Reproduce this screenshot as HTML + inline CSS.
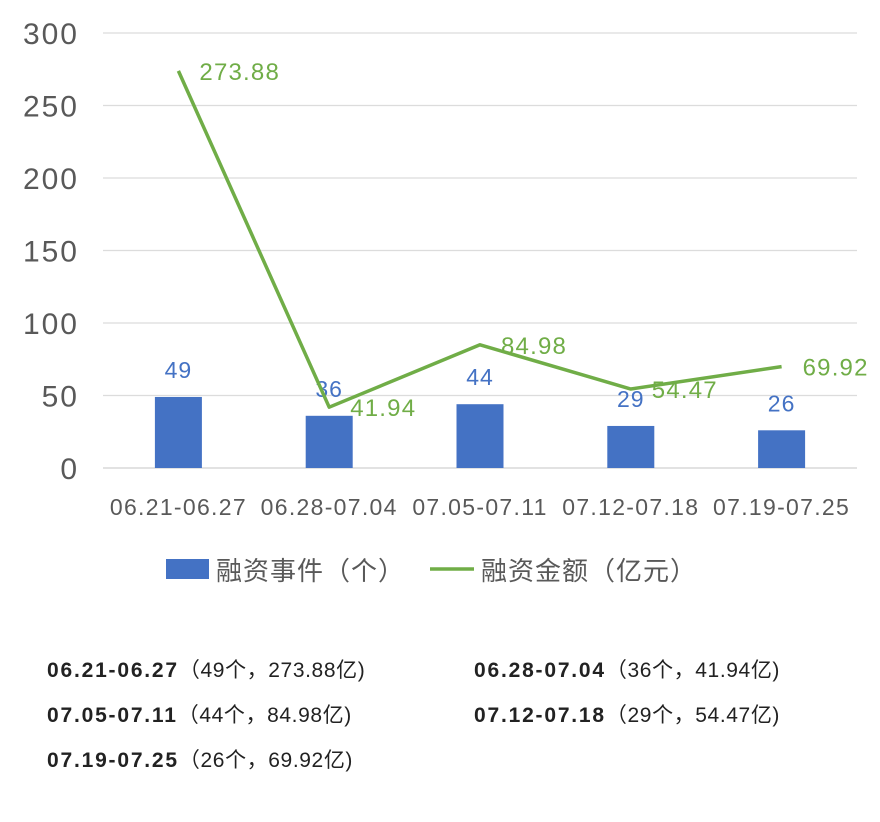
<!DOCTYPE html>
<html><head><meta charset="utf-8">
<style>
body{margin:0;background:#fff;width:880px;height:822px;overflow:hidden;font-family:"Liberation Sans","Noto Sans CJK SC",sans-serif;}
.note{position:absolute;font-size:21px;color:#222;letter-spacing:0.6px;}
.note b{font-weight:bold;letter-spacing:1.8px;}
</style></head><body>
<svg id="chart" width="880" height="610" style="position:absolute;left:0;top:0" font-family="Liberation Sans, Noto Sans CJK SC, sans-serif"></svg>
<div class="note" style="left:47px;top:654px"><b>06.21-06.27</b>（49个，273.88亿)</div>
<div class="note" style="left:474px;top:654px"><b>06.28-07.04</b>（36个，41.94亿)</div>
<div class="note" style="left:47px;top:699px"><b>07.05-07.11</b>（44个，84.98亿)</div>
<div class="note" style="left:474px;top:699px"><b>07.12-07.18</b>（29个，54.47亿)</div>
<div class="note" style="left:47px;top:744px"><b>07.19-07.25</b>（26个，69.92亿)</div>
<script>
const categories=["06.21-06.27","06.28-07.04","07.05-07.11","07.12-07.18","07.19-07.25"];
const events=[49,36,44,29,26];
const amounts=[273.88,41.94,84.98,54.47,69.92];
const yTicks=[0,50,100,150,200,250,300];
const NS="http://www.w3.org/2000/svg";
const svg=document.getElementById('chart');
const X0=103,X1=857,Y0=468,YT=33,YMAX=300;
const band=(X1-X0)/categories.length;
const xc=i=>X0+band*(i+0.5);
const y=v=>Y0-(v/YMAX)*(Y0-YT);
function mk(t,a,txt){const e=document.createElementNS(NS,t);for(const k in a)e.setAttribute(k,a[k]);if(txt!==undefined)e.textContent=txt;svg.appendChild(e);return e;}
yTicks.forEach(v=>{
 const l=mk('line',{x1:X0,x2:X1,y1:y(v),y2:y(v),stroke:v===0?'#d0d0d0':'#dcdcdc','stroke-width':1.3});
 
 
 const t=mk('text',{x:79,y:y(v)+11,'text-anchor':'end','font-size':30,'letter-spacing':2,fill:'#595959'},v);
 
 
});
categories.forEach((c,i)=>{
 const t=mk('text',{x:xc(i),y:515,'text-anchor':'middle','font-size':23,'letter-spacing':1.3,fill:'#595959'},c);
 
 
});
events.forEach((v,i)=>{
 const r=mk('rect',{x:xc(i)-23.5,y:y(v),width:47,height:Y0-y(v),fill:'#4472c4'});
 
 
 const t=mk('text',{x:xc(i),y:y(v)-19,'text-anchor':'middle','font-size':23,'letter-spacing':1,fill:'#4472c4'},v);
 
 
});
const pts=amounts.map((v,i)=>xc(i)+','+y(v)).join(' ');
const pl=mk('polyline',{points:pts,fill:'none',stroke:'#70ad47','stroke-width':3.5,'stroke-linejoin':'round'});


amounts.forEach((v,i)=>{
 const t=mk('text',{x:xc(i)+21,y:y(v)+9,'font-size':24,'letter-spacing':1.2,fill:'#70ad47'},v.toFixed(2));
 
 
});
const lr=mk('rect',{x:166,y:559,width:43,height:20,fill:'#4472c4'});


const lt=mk('text',{x:216,y:580,'font-size':26,'letter-spacing':1,fill:'#595959'},'融资事件（个）');


const ll=mk('line',{x1:430,x2:474,y1:569,y2:569,stroke:'#70ad47','stroke-width':3.5});


const lt2=mk('text',{x:481,y:580,'font-size':26,'letter-spacing':1,fill:'#595959'},'融资金额（亿元）');


</script>
</body></html>
